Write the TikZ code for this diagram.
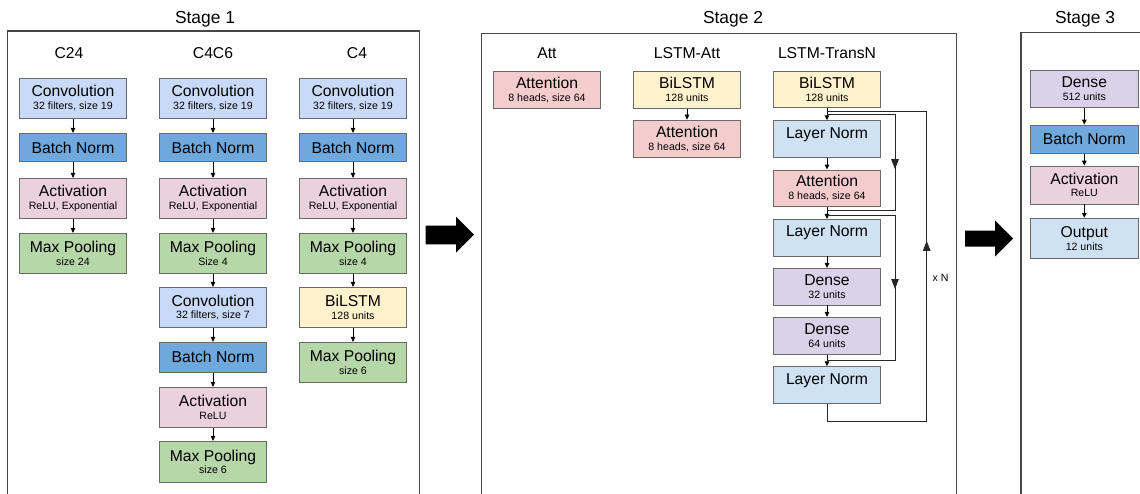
\documentclass[tikz,border=0pt]{standalone}
\usepackage{fontspec}
\setmainfont{Liberation Sans}
\usetikzlibrary{arrows.meta,decorations.markings,calc}
\definecolor{cconv}{HTML}{C9DAF8}
\definecolor{cbn}{HTML}{6FA8DC}
\definecolor{cact}{HTML}{EAD1DC}
\definecolor{cpool}{HTML}{B6D7A8}
\definecolor{clstm}{HTML}{FFF2CC}
\definecolor{catt}{HTML}{F4CCCC}
\definecolor{cln}{HTML}{CFE2F3}
\definecolor{cdense}{HTML}{D9D2E9}
\definecolor{cedge}{HTML}{6A6A6A}
\definecolor{cframe}{HTML}{474747}
\newcommand\mainf{\fontsize{15.7}{12.7}\selectfont}
\newcommand\subf{\fontsize{10.6}{12.7}\selectfont}
\newcommand\titlef{\fontsize{17.4}{20}\selectfont}
\begin{document}
\begin{tikzpicture}[x=1pt,y=-1pt,
  layer/.style={draw=cedge,line width=0.8pt,minimum width=107.4pt,inner sep=0pt,align=center,font=\mainf},
  sconv/.style={layer,fill=cconv},
  sbn/.style={layer,fill=cbn},
  sact/.style={layer,fill=cact},
  spool/.style={layer,fill=cpool},
  slstm/.style={layer,fill=clstm},
  satt/.style={layer,fill=catt},
  sln/.style={layer,fill=cln},
  sdense/.style={layer,fill=cdense},
  frm/.style={draw=cframe,line width=1.3pt},
  ttl/.style={font=\titlef,anchor=base,inner sep=0pt},
  colttl/.style={font=\mainf,anchor=base,inner sep=0pt},
  arr/.style={draw=black,line width=0.9pt,-{Triangle[length=5pt,width=4.5pt]}},
  res/.style={draw=black!85,line width=1pt},
  midarr/.style={postaction={decorate},decoration={markings,mark=at position #1 with {\arrow{Triangle[length=10pt,width=7.5pt]}}}},
  bigarr/.style={fill=black}
]
\clip (0,0) rectangle (1140,493);
\fill[white] (0,0) rectangle (1140,493);

% frames
\draw[frm] (7.5,31) rectangle (419.3,530);
\draw[frm] (481.7,33.3) rectangle (956.7,530);
\draw[frm] (1021,32.5) rectangle (1200,530);

% titles
\node[ttl] (s1) at (205,23.3) {Stage 1};
\node[ttl] (s2) at (733,23.3) {Stage 2};
\node[ttl] (s3) at (1085,23.3) {Stage 3};

\node[colttl] (l1) at (69,58.3) {C24};
\node[colttl] (l2) at (213,58.3) {C4C6};
\node[colttl] (l3) at (357,58.3) {C4};
\node[colttl] (l4) at (547,58.3) {Att};
\node[colttl] (l5) at (687,58.3) {LSTM-Att};
\node[colttl] (l6) at (827,58.3) {LSTM-TransN};

% Stage 1, column C24
\node[sconv,minimum height=40pt] (a1) at (73,98.3) {Convolution\\\subf 32 filters, size 19};
\node[sbn,minimum height=28.4pt] (a2) at (73,147.5) {Batch Norm};
\node[sact,minimum height=40pt] (a3) at (73,198.3) {Activation\\\subf ReLU, Exponential};
\node[spool,minimum height=40pt] (a4) at (73,253.3) {Max Pooling\\\subf size 24};

% column C4C6
\node[sconv,minimum height=40pt] (b1) at (213,98.3) {Convolution\\\subf 32 filters, size 19};
\node[sbn,minimum height=28.4pt] (b2) at (213,147.5) {Batch Norm};
\node[sact,minimum height=40pt] (b3) at (213,198.3) {Activation\\\subf ReLU, Exponential};
\node[spool,minimum height=40pt] (b4) at (213,253.3) {Max Pooling\\\subf Size 4};
\node[sconv,minimum height=40.4pt] (b5) at (213,307.5) {Convolution\\\subf 32 filters, size 7};
\node[sbn,minimum height=30pt] (b6) at (213,357.3) {Batch Norm};
\node[sact,minimum height=40.4pt] (b7) at (213,407.5) {Activation\\\subf ReLU};
\node[spool,minimum height=41pt] (b8) at (213,461.8) {Max Pooling\\\subf size 6};

% column C4
\node[sconv,minimum height=40pt] (c1) at (353,98.3) {Convolution\\\subf 32 filters, size 19};
\node[sbn,minimum height=28.4pt] (c2) at (353,147.5) {Batch Norm};
\node[sact,minimum height=40pt] (c3) at (353,198.3) {Activation\\\subf ReLU, Exponential};
\node[spool,minimum height=40pt] (c4) at (353,253.3) {Max Pooling\\\subf size 4};
\node[slstm,minimum height=40.4pt] (c5) at (353,307.5) {BiLSTM\\\subf 128 units};
\node[spool,minimum height=40.4pt] (c6) at (353,362.5) {Max Pooling\\\subf size 6};

\foreach \u/\v in {a1/a2,a2/a3,a3/a4,b1/b2,b2/b3,b3/b4,b4/b5,b5/b6,b6/b7,b7/b8,c1/c2,c2/c3,c3/c4,c4/c5,c5/c6}
  \draw[arr] (\u) -- (\v);

% Stage 2
\node[satt,minimum height=37.3pt] (d1) at (547,89.7) {Attention\\\subf 8 heads, size 64};
\node[slstm,minimum height=37.3pt] (e1) at (687,89.7) {BiLSTM\\\subf 128 units};
\node[satt,minimum height=37.3pt] (e2) at (687,138.7) {Attention\\\subf 8 heads, size 64};
\draw[arr] (e1) -- (e2);

\node[slstm,minimum height=36.7pt] (f1) at (827,89.3) {BiLSTM\\\subf 128 units};
\node[sln,minimum height=37pt] (f2) at (827,139.2) {Layer Norm\\\subf\phantom{8}};
\node[satt,minimum height=36.7pt] (f3) at (827,188.3) {Attention\\\subf 8 heads, size 64};
\node[sln,minimum height=36.7pt] (f4) at (827,237.7) {Layer Norm\\\subf\phantom{8}};
\node[sdense,minimum height=36.7pt] (f5) at (827,286.7) {Dense\\\subf 32 units};
\node[sdense,minimum height=37pt] (f6) at (827,335.8) {Dense\\\subf 64 units};
\node[sln,minimum height=36.7pt] (f7) at (827,385) {Layer Norm\\\subf\phantom{8}};
\foreach \u/\v in {f1/f2,f2/f3,f3/f4,f4/f5,f5/f6,f6/f7}
  \draw[arr] (\u) -- (\v);

\coordinate (o1) at (827,111.7);
\coordinate (i1) at (827,114.2);
\coordinate (i1e) at (827,210);
\coordinate (i2) at (827,215);
\coordinate (i2e) at (827,360);
\draw[res,midarr=123pt] (i1) -- ++(68,0) |- (i1e);
\draw[res,midarr=142pt] (i2) -- ++(68,0) |- (i2e);
\draw[res,midarr=298pt] (f7.south) -- ++(0,17.7) -- ++(99.7,0) |- (o1);
\node[font=\subf,anchor=base,inner sep=0pt] (xn) at (940.5,281.7) {x N};

% Stage 3
\node[sdense,minimum height=37.3pt] (g1) at (1084.3,88.7) {Dense\\\subf 512 units};
\node[sbn,minimum height=28.3pt] (g2) at (1084.3,139.2) {Batch Norm};
\node[sact,minimum height=38pt] (g3) at (1084.3,185) {Activation\\\subf ReLU};
\node[sln,minimum height=40pt] (g4) at (1084.3,238.3) {Output\\\subf 12 units};
\foreach \u/\v in {g1/g2,g2/g3,g3/g4}
  \draw[arr] (\u) -- (\v);

% big arrows between stages
\fill[bigarr] (425.7,225.7) -- (456,225.7) -- (456,216.7) -- (474,234.7) -- (456,252.7) -- (456,244.3) -- (425.7,244.3) -- cycle;
\fill[bigarr] (965,230.5) -- (995,230.5) -- (995,220.5) -- (1013,238.5) -- (995,256.5) -- (995,246.5) -- (965,246.5) -- cycle;
\end{tikzpicture}
\end{document}
